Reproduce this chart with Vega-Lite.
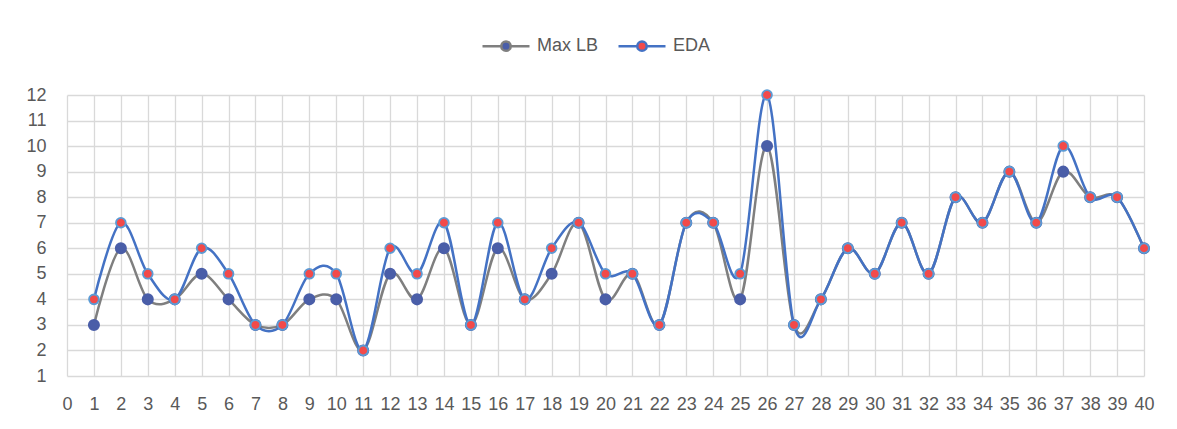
{
  "$schema": "https://vega.github.io/schema/vega-lite/v6.json",
  "width": 1077,
  "height": 281,
  "autosize": {"type": "none"},
  "padding": {"left": 67, "top": 95, "right": 33, "bottom": 53},
  "background": "white",
  "config": {
    "view": {"stroke": null},
    "font": "Liberation Sans",
    "axis": {"labelFont": "Liberation Sans", "labelFontSize": 18, "labelColor": "#595959", "gridColor": "#d9d9d9", "gridWidth": 1.3, "domain": false, "ticks": false, "title": null}
  },
  "data": {"values": [
    {"s":"Max LB","x":1,"y":3},{"s":"Max LB","x":2,"y":6},{"s":"Max LB","x":3,"y":4},{"s":"Max LB","x":4,"y":4},{"s":"Max LB","x":5,"y":5},{"s":"Max LB","x":6,"y":4},{"s":"Max LB","x":7,"y":3},{"s":"Max LB","x":8,"y":3},{"s":"Max LB","x":9,"y":4},{"s":"Max LB","x":10,"y":4},
    {"s":"Max LB","x":11,"y":2},{"s":"Max LB","x":12,"y":5},{"s":"Max LB","x":13,"y":4},{"s":"Max LB","x":14,"y":6},{"s":"Max LB","x":15,"y":3},{"s":"Max LB","x":16,"y":6},{"s":"Max LB","x":17,"y":4},{"s":"Max LB","x":18,"y":5},{"s":"Max LB","x":19,"y":7},{"s":"Max LB","x":20,"y":4},
    {"s":"Max LB","x":21,"y":5},{"s":"Max LB","x":22,"y":3},{"s":"Max LB","x":23,"y":7},{"s":"Max LB","x":24,"y":7},{"s":"Max LB","x":25,"y":4},{"s":"Max LB","x":26,"y":10},{"s":"Max LB","x":27,"y":3},{"s":"Max LB","x":28,"y":4},{"s":"Max LB","x":29,"y":6},{"s":"Max LB","x":30,"y":5},
    {"s":"Max LB","x":31,"y":7},{"s":"Max LB","x":32,"y":5},{"s":"Max LB","x":33,"y":8},{"s":"Max LB","x":34,"y":7},{"s":"Max LB","x":35,"y":9},{"s":"Max LB","x":36,"y":7},{"s":"Max LB","x":37,"y":9},{"s":"Max LB","x":38,"y":8},{"s":"Max LB","x":39,"y":8},{"s":"Max LB","x":40,"y":6},
    {"s":"EDA","x":1,"y":4},{"s":"EDA","x":2,"y":7},{"s":"EDA","x":3,"y":5},{"s":"EDA","x":4,"y":4},{"s":"EDA","x":5,"y":6},{"s":"EDA","x":6,"y":5},{"s":"EDA","x":7,"y":3},{"s":"EDA","x":8,"y":3},{"s":"EDA","x":9,"y":5},{"s":"EDA","x":10,"y":5},
    {"s":"EDA","x":11,"y":2},{"s":"EDA","x":12,"y":6},{"s":"EDA","x":13,"y":5},{"s":"EDA","x":14,"y":7},{"s":"EDA","x":15,"y":3},{"s":"EDA","x":16,"y":7},{"s":"EDA","x":17,"y":4},{"s":"EDA","x":18,"y":6},{"s":"EDA","x":19,"y":7},{"s":"EDA","x":20,"y":5},
    {"s":"EDA","x":21,"y":5},{"s":"EDA","x":22,"y":3},{"s":"EDA","x":23,"y":7},{"s":"EDA","x":24,"y":7},{"s":"EDA","x":25,"y":5},{"s":"EDA","x":26,"y":12},{"s":"EDA","x":27,"y":3},{"s":"EDA","x":28,"y":4},{"s":"EDA","x":29,"y":6},{"s":"EDA","x":30,"y":5},
    {"s":"EDA","x":31,"y":7},{"s":"EDA","x":32,"y":5},{"s":"EDA","x":33,"y":8},{"s":"EDA","x":34,"y":7},{"s":"EDA","x":35,"y":9},{"s":"EDA","x":36,"y":7},{"s":"EDA","x":37,"y":10},{"s":"EDA","x":38,"y":8},{"s":"EDA","x":39,"y":8},{"s":"EDA","x":40,"y":6}
  ]},
  "encoding": {
    "x": {"field": "x", "type": "quantitative", "scale": {"domain": [0, 40], "nice": false, "zero": false},
          "axis": {"values": [0,1,2,3,4,5,6,7,8,9,10,11,12,13,14,15,16,17,18,19,20,21,22,23,24,25,26,27,28,29,30,31,32,33,34,35,36,37,38,39,40], "labelPadding": 19, "labelFlush": false, "labelOverlap": false}},
    "y": {"field": "y", "type": "quantitative", "scale": {"domain": [1, 12], "nice": false, "zero": false},
          "axis": {"values": [1,2,3,4,5,6,7,8,9,10,11,12], "labelPadding": 21, "labelFlush": false}}
  },
  "layer": [
    {
      "mark": {"type": "line", "interpolate": "cardinal", "strokeWidth": 2.5},
      "encoding": {
        "stroke": {"field": "s", "type": "nominal", "scale": {"domain": ["Max LB", "EDA"], "range": ["#7f7f7f", "#4472c4"]},
          "legend": {"orient": "none", "direction": "horizontal", "legendX": 414, "legendY": -74, "title": null, "padding": 0,
            "symbolType": "M-1,0 L-0.2,0 M0.2,0 L1,0 M-0.2,0 A0.2,0.2 0 1,1 0.2,0 A0.2,0.2 0 1,1 -0.2,0 Z",
            "symbolSize": 2209, "symbolStrokeWidth": 2.5, "labelFont": "Liberation Sans", "labelFontSize": 18, "labelColor": "#595959", "labelOffset": 6, "columnPadding": 14}},
        "order": {"field": "x", "type": "quantitative"},
        "detail": {"field": "s"}
      }
    },
    {
      "mark": {"type": "point", "filled": true, "opacity": 1, "strokeWidth": 1.8},
      "encoding": {
        "fill": {"field": "s", "type": "nominal", "scale": {"domain": ["Max LB", "EDA"], "range": ["#4a5ea8", "#f24a4a"]}, "legend": null},
        "stroke": {"condition": {"test": "datum.s === 'EDA'", "value": "#5b9bd5"}, "value": "#4a5ea8"},
        "size": {"condition": {"test": "datum.s === 'EDA'", "value": 95}, "value": 105}
      }
    }
  ]
}
